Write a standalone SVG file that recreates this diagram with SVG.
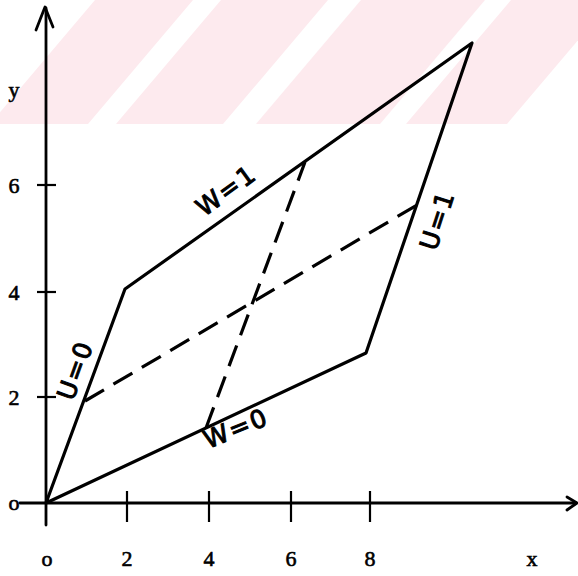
<svg xmlns="http://www.w3.org/2000/svg" width="578" height="576" viewBox="0 0 578 576">
<style>
.stripe{fill:#fdeaee;stroke:none}
.ln{fill:none;stroke:#000;stroke-width:3.2;stroke-linejoin:round;stroke-linecap:round}
.ax{fill:none;stroke:#000;stroke-width:2.8;stroke-linecap:round;stroke-linejoin:round}
.tk{fill:none;stroke:#000;stroke-width:2.2}
.ds{fill:none;stroke:#000;stroke-width:3.2;stroke-dasharray:22 11}
.num{font-family:"Liberation Serif","DejaVu Serif",serif;font-size:22px;fill:#000;stroke:#000;stroke-width:0.6;text-anchor:middle}
.lab{font-family:"DejaVu Sans","Liberation Sans",sans-serif;font-size:25px;fill:#000;stroke:#000;stroke-width:1;text-anchor:middle;letter-spacing:2px}
</style>
<defs>
<clipPath id="band"><rect x="0" y="0" width="578" height="124"/></clipPath>
</defs>
<g id="watermark" clip-path="url(#band)">
<polygon class="stripe" points="95,0 193,0 88,124 -10,124"/>
<polygon class="stripe" points="221,0 328,0 223,124 116,124"/>
<polygon class="stripe" points="361,0 485,0 380,124 256,124"/>
<polygon class="stripe" points="511,0 612,0 507,124 406,124"/>
</g>
<g id="axes">
<line class="ax" x1="46" y1="525" x2="46" y2="8"/>
<polyline class="ax" points="36,30 45,7 53,27"/>
<line class="ax" x1="20" y1="503" x2="576" y2="503"/>
<polyline class="ax" points="567,497 577,503 567,510"/>
<line class="tk" x1="127" y1="491" x2="127" y2="522"/>
<line class="tk" x1="209" y1="491" x2="209" y2="522"/>
<line class="tk" x1="291" y1="491" x2="291" y2="522"/>
<line class="tk" x1="370" y1="491" x2="370" y2="522"/>
<line class="tk" x1="37" y1="185" x2="56" y2="185"/>
<line class="tk" x1="37" y1="292" x2="56" y2="292"/>
<line class="tk" x1="37" y1="397" x2="56" y2="397"/>
</g>
<g id="axis-labels">
<text class="num" x="14" y="97">y</text>
<text class="num" x="14" y="193">6</text>
<text class="num" x="14" y="300">4</text>
<text class="num" x="14" y="405">2</text>
<text class="num" x="14" y="510">o</text>
<text class="num" x="47" y="566">o</text>
<text class="num" x="127" y="566">2</text>
<text class="num" x="209" y="566">4</text>
<text class="num" x="291" y="566">6</text>
<text class="num" x="370" y="566">8</text>
<text class="num" x="532" y="566">x</text>
</g>
<g id="region">
<polygon class="ln" points="46,503 125,289 472,43 366,353"/>
</g>
<g id="connectors">
<line class="ds" x1="85" y1="401" x2="417" y2="205"/>
<line class="ds" x1="206" y1="428" x2="305" y2="162"/>
</g>
<g id="labels">
<text class="lab" transform="translate(75,370) rotate(-70)" y="9">U=0</text>
<text class="lab" transform="translate(437,220) rotate(-72)" y="9">U=1</text>
<text class="lab" transform="translate(226,190) rotate(-36)" y="9">W=1</text>
<text class="lab" transform="translate(236,428) rotate(-22)" y="9">W=0</text>
</g>
</svg>
